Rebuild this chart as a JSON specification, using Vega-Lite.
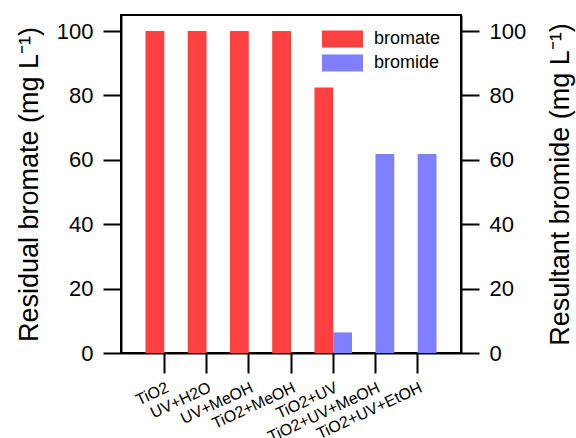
{
  "$schema": "https://vega.github.io/schema/vega-lite/v6.json",
  "width": 340,
  "height": 338,
  "autosize": {"type": "none"},
  "padding": {"left": 121, "top": 15, "right": 115, "bottom": 85},
  "background": "white",
  "config": {
    "font": "Liberation Sans",
    "view": {"stroke": "black", "strokeWidth": 2},
    "axis": {
      "domainColor": "black",
      "domainWidth": 2,
      "tickColor": "black",
      "tickWidth": 2,
      "labelColor": "black",
      "titleColor": "black",
      "grid": false,
      "labelFont": "Liberation Sans",
      "titleFont": "Liberation Sans",
      "titleFontWeight": "normal"
    }
  },
  "data": {
    "values": [
      {"cond": "TiO2", "species": "bromate", "value": 100},
      {"cond": "UV+H2O", "species": "bromate", "value": 100},
      {"cond": "UV+MeOH", "species": "bromate", "value": 100},
      {"cond": "TiO2+MeOH", "species": "bromate", "value": 100},
      {"cond": "TiO2+UV", "species": "bromate", "value": 82.5},
      {"cond": "TiO2+UV+MeOH", "species": "bromate", "value": 0},
      {"cond": "TiO2+UV+EtOH", "species": "bromate", "value": 0},
      {"cond": "TiO2", "species": "bromide", "value": 0},
      {"cond": "UV+H2O", "species": "bromide", "value": 0},
      {"cond": "UV+MeOH", "species": "bromide", "value": 0},
      {"cond": "TiO2+MeOH", "species": "bromide", "value": 0},
      {"cond": "TiO2+UV", "species": "bromide", "value": 6.4},
      {"cond": "TiO2+UV+MeOH", "species": "bromide", "value": 61.8},
      {"cond": "TiO2+UV+EtOH", "species": "bromide", "value": 61.8}
    ]
  },
  "encoding": {
    "x": {
      "field": "cond",
      "type": "nominal",
      "sort": null,
      "scale": {"paddingInner": 0.11, "paddingOuter": 0.58},
      "axis": {
        "title": null,
        "labelAngle": -25,
        "labelFontSize": 16,
        "labelPadding": 6,
        "tickSize": 20,
        "labelAlign": "right",
        "labelBaseline": "top",
        "labelOverlap": false
      }
    },
    "xOffset": {
      "field": "species",
      "type": "nominal",
      "scale": {"domain": ["bromate", "bromide"], "paddingInner": 0, "paddingOuter": 0}
    },
    "color": {
      "field": "species",
      "type": "nominal",
      "scale": {"domain": ["bromate", "bromide"], "range": ["#FF4040", "#8080FF"]},
      "legend": {
        "title": null,
        "orient": "none",
        "legendX": 201,
        "legendY": 14,
        "direction": "vertical",
        "padding": 0,
        "symbolType": "M-1,-0.415H1V0.415H-1Z",
        "symbolSize": 1681,
        "symbolStrokeWidth": 0,
        "symbolOpacity": 1,
        "clipHeight": 20,
        "labelFontSize": 18,
        "labelOffset": 11,
        "labelColor": "black",
        "labelFont": "Liberation Sans",
        "rowPadding": 4
      }
    }
  },
  "layer": [
    {
      "transform": [{"filter": "datum.species === 'bromate'"}],
      "mark": {"type": "bar", "opacity": 1},
      "encoding": {
        "y": {
          "field": "value",
          "type": "quantitative",
          "scale": {"domain": [0, 105], "nice": false, "zero": true},
          "axis": {
            "orient": "left",
            "values": [0, 20, 40, 60, 80, 100],
            "title": "Residual bromate (mg L⁻¹)",
            "titleFontSize": 27,
            "titlePadding": 13,
            "labelFontSize": 22,
            "labelPadding": 10,
            "tickSize": 18
          }
        }
      }
    },
    {
      "transform": [{"filter": "datum.species === 'bromide'"}],
      "mark": {"type": "bar", "opacity": 1},
      "encoding": {
        "y": {
          "field": "value",
          "type": "quantitative",
          "scale": {"domain": [0, 105], "nice": false, "zero": true},
          "axis": {
            "orient": "right",
            "values": [0, 20, 40, 60, 80, 100],
            "title": "Resultant bromide (mg L⁻¹)",
            "titleAngle": 270,
            "titleBaseline": "top",
            "titleFontSize": 27,
            "titlePadding": 22,
            "labelFontSize": 22,
            "labelPadding": 10,
            "tickSize": 18
          }
        }
      }
    }
  ],
  "resolve": {"scale": {"y": "independent"}}
}
